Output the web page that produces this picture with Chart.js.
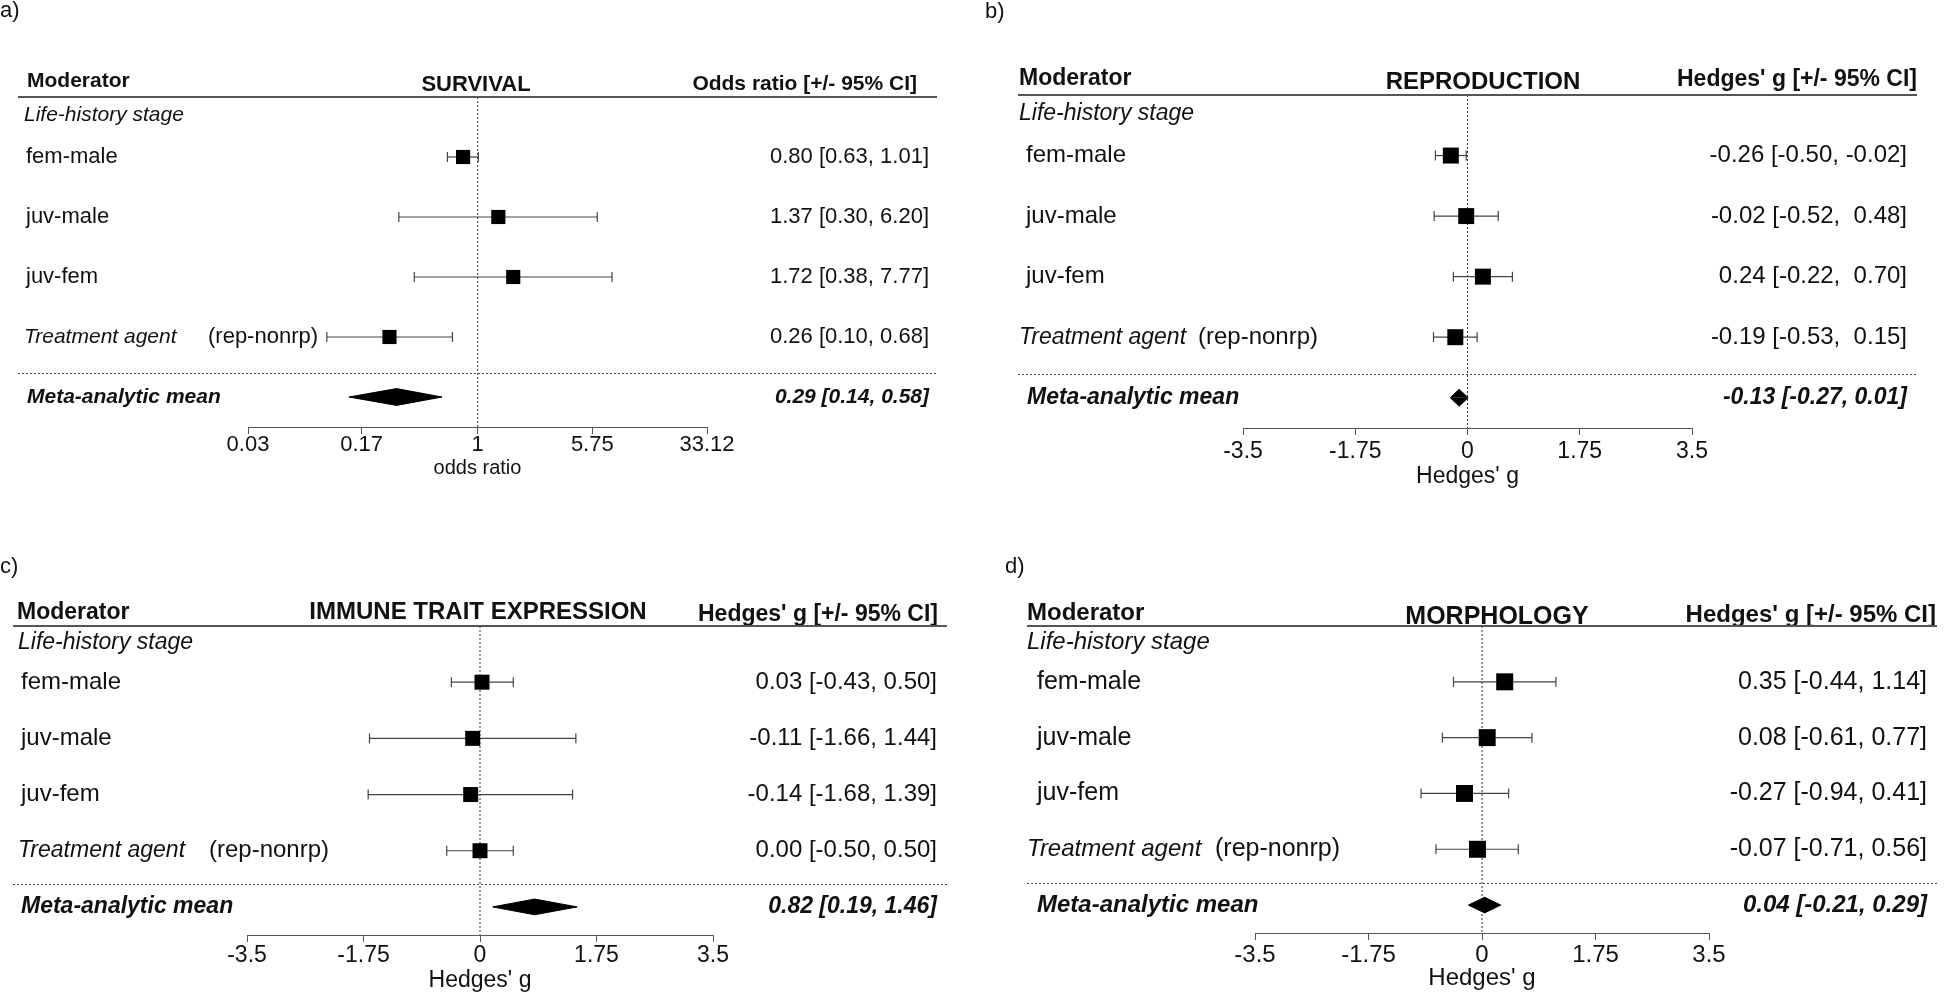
<!DOCTYPE html>
<html>
<head>
<meta charset="utf-8">
<title>Forest plots</title>
<script src="https://cdn.jsdelivr.net/npm/chart.js@4/dist/chart.umd.min.js"></script>
<style>
  body { margin: 0; background: #fff; }
  #wrap { position: relative; width: 1946px; height: 998px; }
  canvas { position: absolute; }
</style>
</head>
<body>
<div id="wrap">
  <canvas id="pa" width="973" height="500" style="left:0;top:0"></canvas>
  <canvas id="pb" width="973" height="500" style="left:973px;top:0"></canvas>
  <canvas id="pc" width="973" height="498" style="left:0;top:500px"></canvas>
  <canvas id="pd" width="973" height="498" style="left:973px;top:500px"></canvas>
</div>
<script>
// row labels (same moderators in every panel)
const groupLabels = ["Life-history stage", "Treatment agent"];
const rowLabels = ["fem-male", "juv-male", "juv-fem", "(rep-nonrp)"];
const metaLabel = "Meta-analytic mean";

// a) survival - odds ratios
const survEst = [0.80, 1.37, 1.72, 0.26];
const survLo = [0.63, 0.30, 0.38, 0.10];
const survHi = [1.01, 6.20, 7.77, 0.68];
const survMeta = [0.29, 0.14, 0.58];
const orTicks = ["0.03", "0.17", "1", "5.75", "33.12"];

// b) reproduction - Hedges' g
const reproEst = [-0.26, -0.02, 0.24, -0.19];
const reproLo = [-0.50, -0.52, -0.22, -0.53];
const reproHi = [-0.02, 0.48, 0.70, 0.15];
const reproMeta = [-0.13, -0.27, 0.01];

// c) immune trait expression
const immEst = [0.03, -0.11, -0.14, 0.00];
const immLo = [-0.43, -1.66, -1.68, -0.50];
const immHi = [0.50, 1.44, 1.39, 0.50];
const immMeta = [0.82, 0.19, 1.46];

// d) morphology
const morphEst = [0.35, 0.08, -0.27, -0.07];
const morphLo = [-0.44, -0.61, -0.94, -0.71];
const morphHi = [1.14, 0.77, 0.41, 0.56];
const morphMeta = [0.04, -0.21, 0.29];

const gTicks = ["-3.5", "-1.75", "0", "1.75", "3.5"];

const FONT = '"Liberation Sans", Arial, sans-serif';
const GREY = "#555";
const BAR = "#444";

// rows sit at y = 1..4, meta at 5; header line at 0, axis at 5.5
const panels = [
  {id: "pa", letter: "a)", title: "SURVIVAL", head: "Odds ratio [+/- 95% CI]", xTitle: "odds ratio",
   est: survEst, lo: survLo, hi: survHi, meta: survMeta, ticks: orTicks, log: true, ref: 1, pad: false,
   letterX: 0, letterY: 11, modX: 27, modY: 81, titleX: 476, titleY: 85, headR: 917, headY: 84,
   lineX1: 18, lineX2: 937, labX: 24, rowX: 26, parenX: 208, metaX: 27, valR: 929,
   area: {l: 248, r: 707, t: 97, b: 427}, h: 500,
   fs: 22, fsB: 21, fsI: 21, fsT: 22, tickFs: 22, tickPad: 0, xtFs: 20, xtPad: 9, sq: 10},
  {id: "pb", letter: "b)", title: "REPRODUCTION", head: "Hedges' g [+/- 95% CI]", xTitle: "Hedges' g",
   est: reproEst, lo: reproLo, hi: reproHi, meta: reproMeta, ticks: gTicks, log: false, ref: 0, pad: true,
   letterX: 12, letterY: 12, modX: 46, modY: 79, titleX: 510, titleY: 82, headR: 944, headY: 80,
   lineX1: 45, lineX2: 944, labX: 46, rowX: 53, parenX: 225, metaX: 54, valR: 934,
   area: {l: 270, r: 719, t: 95, b: 428}, h: 500,
   fs: 24, fsB: 23, fsI: 23, fsT: 24, tickFs: 23, tickPad: 5, xtFs: 23, xtPad: 0, sq: 11.3},
  {id: "pc", letter: "c)", title: "IMMUNE TRAIT EXPRESSION", head: "Hedges' g [+/- 95% CI]", xTitle: "Hedges' g",
   est: immEst, lo: immLo, hi: immHi, meta: immMeta, ticks: gTicks, log: false, ref: 0, pad: false,
   letterX: 0, letterY: 67, modX: 17, modY: 113, titleX: 478, titleY: 112, headR: 938, headY: 115,
   lineX1: 13, lineX2: 947, labX: 18, rowX: 21, parenX: 209, metaX: 21, valR: 937,
   area: {l: 247, r: 713, t: 126, b: 435}, h: 498,
   fs: 24, fsB: 23, fsI: 23, fsT: 24, tickFs: 23, tickPad: 2, xtFs: 23, xtPad: 3, sq: 10.6},
  {id: "pd", letter: "d)", title: "MORPHOLOGY", head: "Hedges' g [+/- 95% CI]", xTitle: "Hedges' g",
   est: morphEst, lo: morphLo, hi: morphHi, meta: morphMeta, ticks: gTicks, log: false, ref: 0, pad: false,
   letterX: 32, letterY: 67, modX: 54, modY: 113, titleX: 524, titleY: 117, headR: 963, headY: 115,
   lineX1: 54, lineX2: 964, labX: 54, rowX: 64, parenX: 242, metaX: 64, valR: 954,
   area: {l: 282, r: 736, t: 126, b: 433}, h: 498,
   fs: 25, fsB: 24, fsI: 24, fsT: 25, tickFs: 24, tickPad: 3, xtFs: 24, xtPad: 3, sq: 12}
];

const AXIS_H = 60;

function fmt(v, pad) {
  const s = v.toFixed(2);
  return pad && v >= 0 ? " " + s : s;
}

function ciText(est, lo, hi, pad) {
  return fmt(est, false) + " [" + fmt(lo, pad) + ", " + fmt(hi, pad) + "]";
}

function textPlugin(p) {
  return {
    id: "forestText",
    afterDraw(chart) {
      const ctx = chart.ctx;
      const ys = chart.scales.y;
      const f = (style, size) => style + " " + size + "px " + FONT;
      ctx.save();
      ctx.fillStyle = "#111";
      ctx.textBaseline = "middle";

      // panel letter
      ctx.textAlign = "left";
      ctx.font = f("normal", 22);
      ctx.fillText(p.letter, p.letterX, p.letterY);

      // header row
      ctx.font = f("bold", p.fsB);
      ctx.fillText("Moderator", p.modX, p.modY);
      ctx.textAlign = "center";
      ctx.font = f("bold", p.fsT);
      ctx.fillText(p.title, p.titleX, p.titleY);
      ctx.textAlign = "right";
      ctx.font = f("bold", p.fsB);
      ctx.fillText(p.head, p.headR, p.headY);

      // header rule
      ctx.strokeStyle = GREY;
      ctx.lineWidth = 2;
      ctx.beginPath();
      ctx.moveTo(p.lineX1, ys.getPixelForValue(0));
      ctx.lineTo(p.lineX2, ys.getPixelForValue(0));
      ctx.stroke();

      // dotted separator above meta row
      const sy = Math.round(ys.getPixelForValue(4.6)) + 0.5;
      ctx.lineWidth = 1;
      ctx.strokeStyle = "#444";
      ctx.setLineDash([2, 2]);
      ctx.beginPath();
      ctx.moveTo(p.lineX1, sy);
      ctx.lineTo(p.lineX2, sy);
      ctx.stroke();
      ctx.setLineDash([]);

      // left column
      ctx.textAlign = "left";
      ctx.font = f("italic", p.fsI);
      ctx.fillText(groupLabels[0], p.labX, ys.getPixelForValue(0.3));
      rowLabels.forEach((lab, i) => {
        const y = ys.getPixelForValue(i + 1);
        if (i === 3) {
          ctx.font = f("italic", p.fsI);
          ctx.fillText(groupLabels[1], p.labX, y);
          ctx.font = f("normal", p.fs);
          ctx.fillText(lab, p.parenX, y);
        } else {
          ctx.font = f("normal", p.fs);
          ctx.fillText(lab, p.rowX, y);
        }
      });
      ctx.font = f("italic bold", p.fsB);
      ctx.fillText(metaLabel, p.metaX, ys.getPixelForValue(5));

      // right column
      ctx.textAlign = "right";
      ctx.font = f("normal", p.fs);
      p.est.forEach((e, i) => {
        ctx.fillText(ciText(e, p.lo[i], p.hi[i], p.pad), p.valR, ys.getPixelForValue(i + 1));
      });
      ctx.font = f("italic bold", p.fsB);
      ctx.fillText(ciText(p.meta[0], p.meta[1], p.meta[2], false), p.valR, ys.getPixelForValue(5));
      ctx.restore();
    }
  };
}

function buildChart(p) {
  const rows = p.est.map((e, i) => i + 1);
  const halfH = 0.14;
  const datasets = [];

  // squares
  datasets.push({
    data: p.est.map((e, i) => ({x: e, y: rows[i]})),
    pointStyle: "rect", pointRadius: p.sq, pointBackgroundColor: "#000",
    pointBorderColor: "#000", pointBorderWidth: 0, showLine: false
  });
  // diamond for the meta-analytic mean (upper and lower halves, filled to the row line)
  [-halfH, halfH].forEach(d => {
    datasets.push({
      data: [{x: p.meta[1], y: 5}, {x: p.meta[0], y: 5 + d}, {x: p.meta[2], y: 5}],
      showLine: true, borderColor: "#000", borderWidth: 1, backgroundColor: "#000",
      fill: {value: 5}, pointRadius: 0, tension: 0
    });
  });
  // confidence intervals with end caps
  p.est.forEach((e, i) => {
    datasets.push({
      data: [{x: p.lo[i], y: rows[i]}, {x: p.hi[i], y: rows[i]}],
      showLine: true, borderColor: BAR, borderWidth: 1.2,
      pointStyle: "line", rotation: 90, pointRadius: 5,
      pointBorderColor: BAR, pointBorderWidth: 1.2
    });
  });
  // reference line (no effect)
  datasets.push({
    data: [{x: p.ref, y: 0}, {x: p.ref, y: 5.5}],
    showLine: true, borderColor: "#333", borderWidth: 1, borderDash: [2, 2], pointRadius: 0
  });

  const tickVals = p.ticks.map(Number);
  const a = p.area;
  new Chart(document.getElementById(p.id), {
    type: "scatter",
    data: {datasets: datasets},
    options: {
      responsive: false,
      animation: false,
      events: [],
      layout: {padding: {left: a.l, right: 973 - a.r, top: a.t, bottom: p.h - a.b - AXIS_H}},
      plugins: {legend: {display: false}, tooltip: {enabled: false}},
      scales: {
        x: {
          type: p.log ? "logarithmic" : "linear",
          min: tickVals[0],
          max: tickVals[tickVals.length - 1],
          afterBuildTicks: s => { s.ticks = tickVals.map(v => ({value: v})); },
          afterFit: s => { s.height = AXIS_H; },
          ticks: {
            color: "#111", padding: p.tickPad, maxRotation: 0, autoSkip: false,
            font: {family: FONT, size: p.tickFs, lineHeight: 1},
            callback: (v, i) => p.ticks[i]
          },
          grid: {drawOnChartArea: false, drawTicks: true, tickLength: 7, color: GREY},
          border: {color: GREY, width: 1},
          title: {display: true, text: p.xTitle, color: "#111",
                  font: {family: FONT, size: p.xtFs, lineHeight: 1}, padding: {top: 0, bottom: p.xtPad}}
        },
        y: {type: "linear", min: 0, max: 5.5, reverse: true, display: false}
      }
    },
    plugins: [textPlugin(p)]
  });
}

panels.forEach(buildChart);
</script>
</body>
</html>
